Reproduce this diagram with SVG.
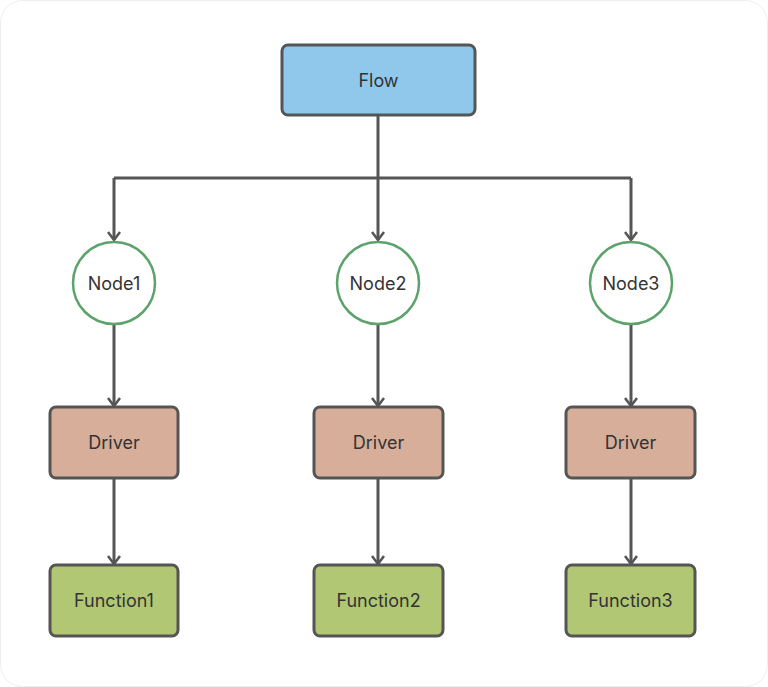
<svg xmlns="http://www.w3.org/2000/svg" width="768" height="687" viewBox="0 0 768 687">
<defs>
<style>
.box{stroke:#555;stroke-width:3}
.flow{fill:#90C8EC}
.drv{fill:#D6AE9A}
.fn{fill:#B2C774}
.node{fill:#fff;stroke:#5BA36A;stroke-width:2.5}
.lbl{font-family:Inter,"Noto Sans",sans-serif;font-size:18px;fill:#333;text-anchor:middle;dominant-baseline:central}
.edge{fill:none;stroke:#555;stroke-width:3}
</style>
<marker id="arr" markerWidth="14" markerHeight="14" viewBox="0 0 14 14" refX="12" refY="7" orient="auto" markerUnits="userSpaceOnUse">
<path d="M4,1 L12,7 L4,13" fill="none" stroke="#555" stroke-width="2.5"/>
</marker>
</defs>
<rect x="0.5" y="0.5" width="767" height="686" rx="22" fill="#fff" stroke="#eee"/>
<g id="connectors">
<path class="edge" d="M378,115 V178"/>
<path class="edge" d="M114,178 H631"/>
<path class="edge" d="M114,178 V240" marker-end="url(#arr)"/>
<path class="edge" d="M378,178 V240" marker-end="url(#arr)"/>
<path class="edge" d="M631,178 V240" marker-end="url(#arr)"/>
<path class="edge" d="M114,324 V406" marker-end="url(#arr)"/>
<path class="edge" d="M378,324 V406" marker-end="url(#arr)"/>
<path class="edge" d="M631,324 V406" marker-end="url(#arr)"/>
<path class="edge" d="M114,479 V564" marker-end="url(#arr)"/>
<path class="edge" d="M378,479 V564" marker-end="url(#arr)"/>
<path class="edge" d="M631,479 V564" marker-end="url(#arr)"/>
</g>
<g id="flow"><rect class="box flow" x="282" y="45" width="193" height="70" rx="6"/><text class="lbl" x="378.5" y="80">Flow</text></g>
<g id="node1"><circle class="node" cx="114" cy="283" r="41"/><text class="lbl" x="114" y="283">Node1</text></g>
<g id="node2"><circle class="node" cx="378" cy="283" r="41"/><text class="lbl" x="378" y="283">Node2</text></g>
<g id="node3"><circle class="node" cx="631" cy="283" r="41"/><text class="lbl" x="631" y="283">Node3</text></g>
<g id="driver1"><rect class="box drv" x="50" y="407" width="128" height="71" rx="6"/><text class="lbl" x="114" y="442.5">Driver</text></g>
<g id="driver2"><rect class="box drv" x="314" y="407" width="129" height="71" rx="6"/><text class="lbl" x="378.5" y="442.5">Driver</text></g>
<g id="driver3"><rect class="box drv" x="566" y="407" width="129" height="71" rx="6"/><text class="lbl" x="630.5" y="442.5">Driver</text></g>
<g id="function1"><rect class="box fn" x="50" y="565" width="128" height="71" rx="6"/><text class="lbl" x="114" y="600.5">Function1</text></g>
<g id="function2"><rect class="box fn" x="314" y="565" width="129" height="71" rx="6"/><text class="lbl" x="378.5" y="600.5">Function2</text></g>
<g id="function3"><rect class="box fn" x="566" y="565" width="129" height="71" rx="6"/><text class="lbl" x="630.5" y="600.5">Function3</text></g>
</svg>
